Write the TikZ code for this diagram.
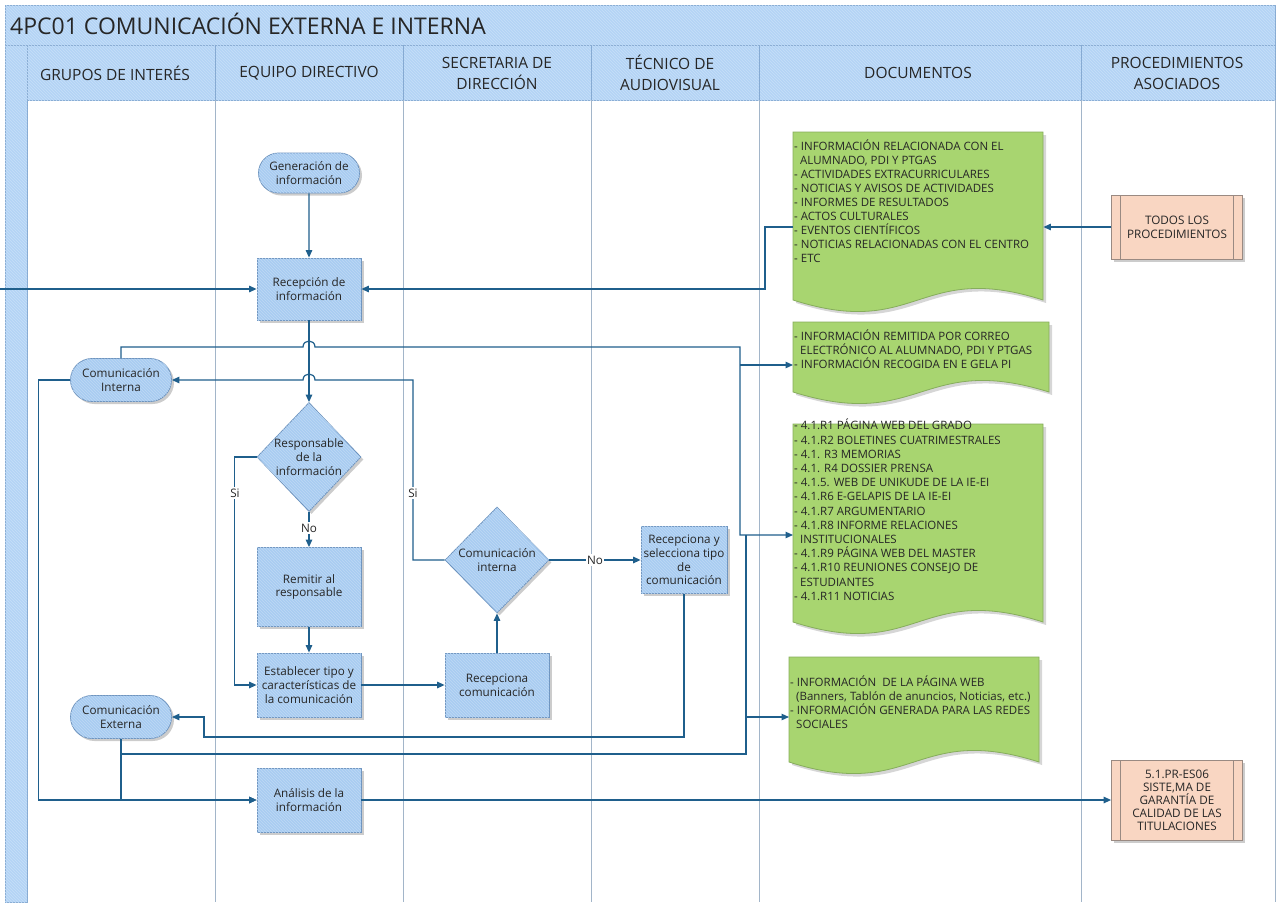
\documentclass[tikz,border=0pt]{standalone}
\usepackage{fontspec}
\setmainfont{Open Sans}
\usetikzlibrary{arrows.meta,shapes.geometric,shapes.misc,shadows,patterns}

\definecolor{hdrfill}{HTML}{B4D4F5}
\definecolor{hdrline}{HTML}{86AAD2}
\definecolor{boxfill}{HTML}{A9CCF1}
\definecolor{boxline}{HTML}{6D93BE}
\definecolor{laneline}{HTML}{A2B5C9}
\definecolor{connc}{HTML}{1F5F8C}
\definecolor{docfill}{HTML}{A8D570}
\definecolor{docline}{HTML}{86AD5C}
\definecolor{procfill}{HTML}{F9D6C2}
\definecolor{procline}{HTML}{9A8A82}
\definecolor{txt}{HTML}{262626}

\newcommand\boxfs{\fontsize{11.7}{13.8}\selectfont}
\newcommand\docfs{\fontsize{11.5}{14}\selectfont}
\newcommand\docshape[4]{%
  \fill[black, opacity=0.16] ({#1+3},{#2+3}) -- ({#3+3},{#2+3}) -- ({#3+3},{#4+3})
     .. controls ({(#1+#3)/2+3},{#4-37}) and ({(#1+#3)/2+3},{#4+43}) .. ({#1+3},{#4+3}) -- cycle;
  \path[docsty] (#1,#2) -- (#3,#2) -- (#3,#4)
     .. controls ({(#1+#3)/2},{#4-40}) and ({(#1+#3)/2},{#4+40}) .. (#1,#4) -- cycle;}

\tikzset{
  hdrbox/.style={fill=hdrfill, draw=hdrline, line width=0.8pt,
     postaction={pattern=north west lines, pattern color=hdrfill!75!white}},
  hdrtext/.style={align=center, text=txt, font=\fontsize{15.5}{21}\selectfont, inner sep=0pt},
  lane/.style={draw=laneline, line width=0.8pt},
  shad/.style={drop shadow={shadow xshift=2.5pt, shadow yshift=-2.5pt, fill=black, opacity=0.2}},
  flowbox/.style={rectangle, draw=boxline, line width=0.8pt, fill=boxfill,
     postaction={pattern=north west lines, pattern color=boxfill!75!white},
     shad, align=center, text=txt, font=\boxfs, inner sep=2pt, minimum width=104pt},
  stad/.style={flowbox, rounded rectangle, minimum width=105pt, minimum height=43pt},
  diam/.style={diamond, draw=boxline, line width=0.8pt, fill=boxfill,
     postaction={pattern=north west lines, pattern color=boxfill!75!white},
     shad, inner sep=0pt, minimum width=104pt},
  dtext/.style={align=center, text=txt, font=\boxfs, inner sep=0pt},
  docsty/.style={fill=docfill, draw=docline, line width=0.8pt},
  docanchor/.style={rectangle, draw=none, inner sep=0pt, anchor=north west},
  doctext/.style={align=left, text=txt, font=\docfs, inner sep=0pt, anchor=north west},
  proc/.style={rectangle, draw=procline, line width=0.8pt, fill=procfill, shad,
     align=center, text=txt, font=\boxfs, inner sep=2pt, minimum width=131pt,
     path picture={
       \draw[procline, line width=0.8pt] ([xshift=9pt]path picture bounding box.north west) -- ([xshift=9pt]path picture bounding box.south west);
       \draw[procline, line width=0.8pt] ([xshift=-9pt]path picture bounding box.north east) -- ([xshift=-9pt]path picture bounding box.south east);}},
  conn/.style={draw=connc, line width=1.2pt, -{Triangle[length=7.5pt,width=6.5pt]}},
  connl/.style={draw=connc, line width=1.2pt},
  lbl/.style={fill=white, text=txt, font=\boxfs, inner sep=1.5pt}
}

\begin{document}
\begin{tikzpicture}[x=1pt,y=-1pt]
\useasboundingbox (0,0) rectangle (1279,902);
\fill[white] (0,0) rectangle (1279,902);

% frame and headers
\path[hdrbox] (5,5) rectangle (1275,45);
\node[anchor=west, text=txt, font=\fontsize{23}{26}\selectfont, inner sep=0pt] (title) at (10,24) {4PC01 COMUNICACIÓN EXTERNA E INTERNA};
\path[hdrbox] (5,45) rectangle (27,902);
\path[hdrbox] (27,45) rectangle (1275,100);
\foreach \x in {215,403,591,759,1081} \draw[hdrline, line width=0.8pt] (\x,45) -- (\x,100);
\foreach \x in {215,403,591,759,1081,1275} \draw[lane] (\x,100) -- (\x,902);

\node[hdrtext] (h1) at (115,73) {GRUPOS DE INTERÉS};
\node[hdrtext] (h2) at (309,73) {EQUIPO DIRECTIVO};
\node[hdrtext] (h3) at (497,73) {SECRETARIA DE\\DIRECCIÓN};
\node[hdrtext] (h4) at (670,73) {TÉCNICO DE\\AUDIOVISUAL};
\node[hdrtext] (h5) at (918,73) {DOCUMENTOS};
\node[hdrtext] (h6) at (1177,73) {PROCEDIMIENTOS\\ASOCIADOS};

% documents
\docshape{793}{132}{1043}{300}
\node[docanchor, minimum width=250pt, minimum height=168pt] (d1) at (793,132) {};
\node[doctext] (d1t) at (794,140) {- INFORMACIÓN RELACIONADA CON EL\\\hspace*{6pt}ALUMNADO, PDI Y PTGAS\\- ACTIVIDADES EXTRACURRICULARES\\- NOTICIAS Y AVISOS DE ACTIVIDADES\\- INFORMES DE RESULTADOS\\- ACTOS CULTURALES\\- EVENTOS CIENTÍFICOS\\- NOTICIAS RELACIONADAS CON EL CENTRO\\- ETC};

\docshape{793}{322}{1049}{392}
\node[docanchor, minimum width=256pt, minimum height=70pt] (d2) at (793,322) {};
\node[doctext] (d2t) at (794,330) {- INFORMACIÓN REMITIDA POR CORREO\\\hspace*{6pt}ELECTRÓNICO AL ALUMNADO, PDI Y PTGAS\\- INFORMACIÓN RECOGIDA EN E GELA PI};

\docshape{793}{424}{1043}{622}
\node[docanchor, minimum width=250pt, minimum height=198pt] (d3) at (793,424) {};
\node[doctext, font=\fontsize{11.5}{14.2}\selectfont] (d3t) at (794,419) {- 4.1.R1 PÁGINA WEB DEL GRADO\\- 4.1.R2 BOLETINES CUATRIMESTRALES\\- 4.1. R3 MEMORIAS\\- 4.1. R4 DOSSIER PRENSA\\- 4.1.5. WEB DE UNIKUDE DE LA IE-EI\\- 4.1.R6 E-GELAPIS DE LA IE-EI\\- 4.1.R7 ARGUMENTARIO\\- 4.1.R8 INFORME RELACIONES\\\hspace*{6pt}INSTITUCIONALES\\- 4.1.R9 PÁGINA WEB DEL MASTER\\- 4.1.R10 REUNIONES CONSEJO DE\\\hspace*{6pt}ESTUDIANTES\\- 4.1.R11 NOTICIAS};

\docshape{789}{657}{1039}{762}
\node[docanchor, minimum width=250pt, minimum height=105pt] (d4) at (789,657) {};
\node[doctext] (d4t) at (790,676) {- INFORMACIÓN\ \ DE LA PÁGINA WEB\\\hspace*{6pt}(Banners, Tablón de anuncios, Noticias, etc.)\\- INFORMACIÓN GENERADA PARA LAS REDES\\\hspace*{6pt}SOCIALES};

% procedures
\node[proc, minimum height=64pt] (p1) at (1177,227) {TODOS LOS\\PROCEDIMIENTOS};
\node[proc, minimum height=80pt, font=\fontsize{11.7}{13}\selectfont] (p2) at (1177,800) {5.1.PR-ES06\\SISTE,MA DE\\GARANTÍA DE\\CALIDAD DE LAS\\TITULACIONES};

% flow nodes
\node[stad, minimum height=40pt] (gen) at (309,173) {Generación de\\información};
\node[flowbox, minimum height=62pt] (rec) at (309,289) {Recepción de\\información};
\node[stad] (ci) at (121,380) {Comunicación\\Interna};
\node[stad] (ce) at (121,717) {Comunicación\\Externa};
\node[diam, minimum height=109pt] (q1) at (309,457) {};
\node[dtext] (q1t) at (309,457) {Responsable\\de la\\información};
\node[flowbox, minimum height=79pt] (rem) at (309,587) {Remitir al\\responsable};
\node[flowbox, minimum height=64pt] (est) at (309,685) {Establecer tipo y\\características de\\la comunicación};
\node[flowbox, minimum height=64pt] (rc) at (497,685) {Recepciona\\comunicación};
\node[diam, minimum height=106pt] (q2) at (497,560) {};
\node[dtext] (q2t) at (497,560) {Comunicación\\interna};
\node[flowbox, minimum width=86pt, minimum height=67pt, inner sep=1pt] (rs) at (684,560) {Recepciona y\\selecciona tipo\\de\\comunicación};
\node[flowbox, minimum height=64pt] (ana) at (309,800) {Análisis de la\\información};

% junctions
\coordinate (inL) at (0,289);
\coordinate (jA) at (740,347);
\coordinate (jB) at (740,535);
\coordinate (jC) at (740,365);
\coordinate (jD) at (413,380);
\coordinate (jF) at (204,737);
\coordinate (jG) at (121,754);
\coordinate (jH) at (746,754);
\coordinate (jK) at (746,535);
\coordinate (jI) at (746,717);

% connectors
\draw[conn] (gen) -- (rec);
\draw[conn] (inL) -- (rec.west);
\draw[conn] (d1.west |- p1.west) -- ++(-28,0) |- (rec.east);
\draw[conn] (p1.west) -- (p1.west -| d1.east);
\draw[conn] (rec) -- (q1);
\draw[conn] (ci.north) -- (ci.north |- jA) -- (303,347) .. controls (303,339) and (315,339) .. (315,347) -- (jA) -- (jB) -- (jB -| d3.west);
\draw[conn] (jC) -- (jC -| d2.west);
\draw[conn] (q2.west) -| (jD) -- (315,380) .. controls (315,372) and (303,372) .. (303,380) -- (ci.east);
\node[lbl] (si2) at (413,493) {Si};
\draw[conn] (q1.west) -- ++(-22,0) |- (est.west);
\node[lbl] (si1) at (235,493) {Si};
\draw[conn] (q1) -- (rem);
\node[lbl] (no1) at (309,528) {No};
\draw[conn] (rem) -- (est);
\draw[conn] (est) -- (rc);
\draw[conn] (rc) -- (q2);
\draw[conn] (q2) -- node[lbl] (no2) {No} (rs);
\draw[conn] (rs.south) |- (jF) |- (ce.east);
\draw[connl] (ce.south) -- (jG) -- (jH) -- (jK);
\draw[conn] (jI) -- (jI -| d4.west);
\draw[conn] (jG) |- (ana.west);
\draw[conn] (ci.west) -- ++(-32,0) |- (ana.west);
\draw[conn] (ana.east) -- (ana.east -| p2.west);
\end{tikzpicture}
\end{document}
